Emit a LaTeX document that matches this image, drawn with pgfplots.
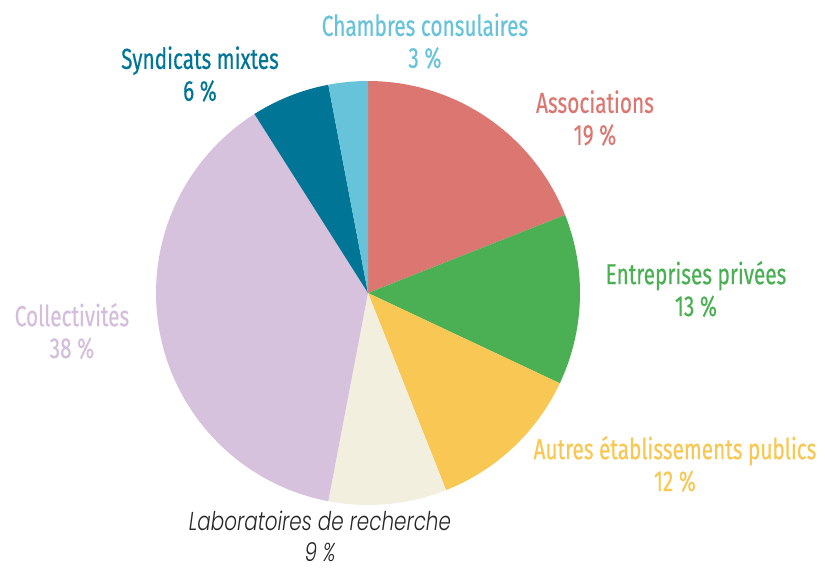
\documentclass[border=0pt]{standalone}
\usepackage{pgfplots}
\pgfplotsset{compat=1.18}
\usepackage{fontspec}
\setmainfont[FakeStretch=0.72,FakeBold=0.4]{Fira Sans}
\newfontfamily\labfont[FakeStretch=0.77,ItalicFont={* Light Italic}]{Poppins}
\definecolor{cAsso}{RGB}{220,118,113}
\definecolor{cEntr}{RGB}{75,175,84}
\definecolor{cAutr}{RGB}{249,199,83}
\definecolor{cLabo}{RGB}{243,239,222}
\definecolor{cColl}{RGB}{215,194,222}
\definecolor{cSynd}{RGB}{0,117,150}
\definecolor{cCham}{RGB}{102,195,218}
\definecolor{cCollTxt}{RGB}{212,190,220}
\tikzset{lbl/.style={font=\fontsize{14.5}{16}\selectfont, align=center, inner sep=0pt}}
% slice: cumulative start (percent), share (percent), colour
\newcommand\slice[3]{%
  \addplot[fill=#3, draw=none, domain={90-3.6*(#1+#2)}:{90-3.6*(#1)}, samples=80, variable=\t]
    ({368+212*cos(\t)},{279+212*sin(\t)}) -- (axis cs:368,279) -- cycle;
}
\begin{document}
\begin{tikzpicture}
\begin{axis}[
  scale only axis, width=412.5bp, height=286bp,
  xmin=0, xmax=825, ymin=0, ymax=572,
  hide axis, clip=false,
]
% shares in percent, clockwise from the top
\slice{0}{19}{cAsso}
\slice{19}{13}{cEntr}
\slice{32}{12}{cAutr}
\slice{44}{9}{cLabo}
\slice{53}{38}{cColl}
\slice{91}{6}{cSynd}
\slice{97}{3}{cCham}
\node[lbl, text=cCham] at (axis cs:425,531) {Chambres consulaires\\3 \%};
\node[lbl, text=cSynd] at (axis cs:200,498) {Syndicats mixtes\\6 \%};
\node[lbl, text=cAsso] at (axis cs:595,454) {Associations\\19 \%};
\node[lbl, text=cEntr] at (axis cs:696,283) {Entreprises privées\\13 \%};
\node[lbl, text=cAutr] at (axis cs:675,108) {Autres établissements publics\\12 \%};
\node[lbl, text=black!85, font=\labfont\itshape\fontsize{13}{15.5}\selectfont] at (axis cs:320,36) {Laboratoires de recherche\\9 \%};
\node[lbl, text=cCollTxt] at (axis cs:72,241) {Collectivités\\38 \%};
\path (axis cs:0,0) (axis cs:825,572);
\end{axis}
\end{tikzpicture}
\end{document}
